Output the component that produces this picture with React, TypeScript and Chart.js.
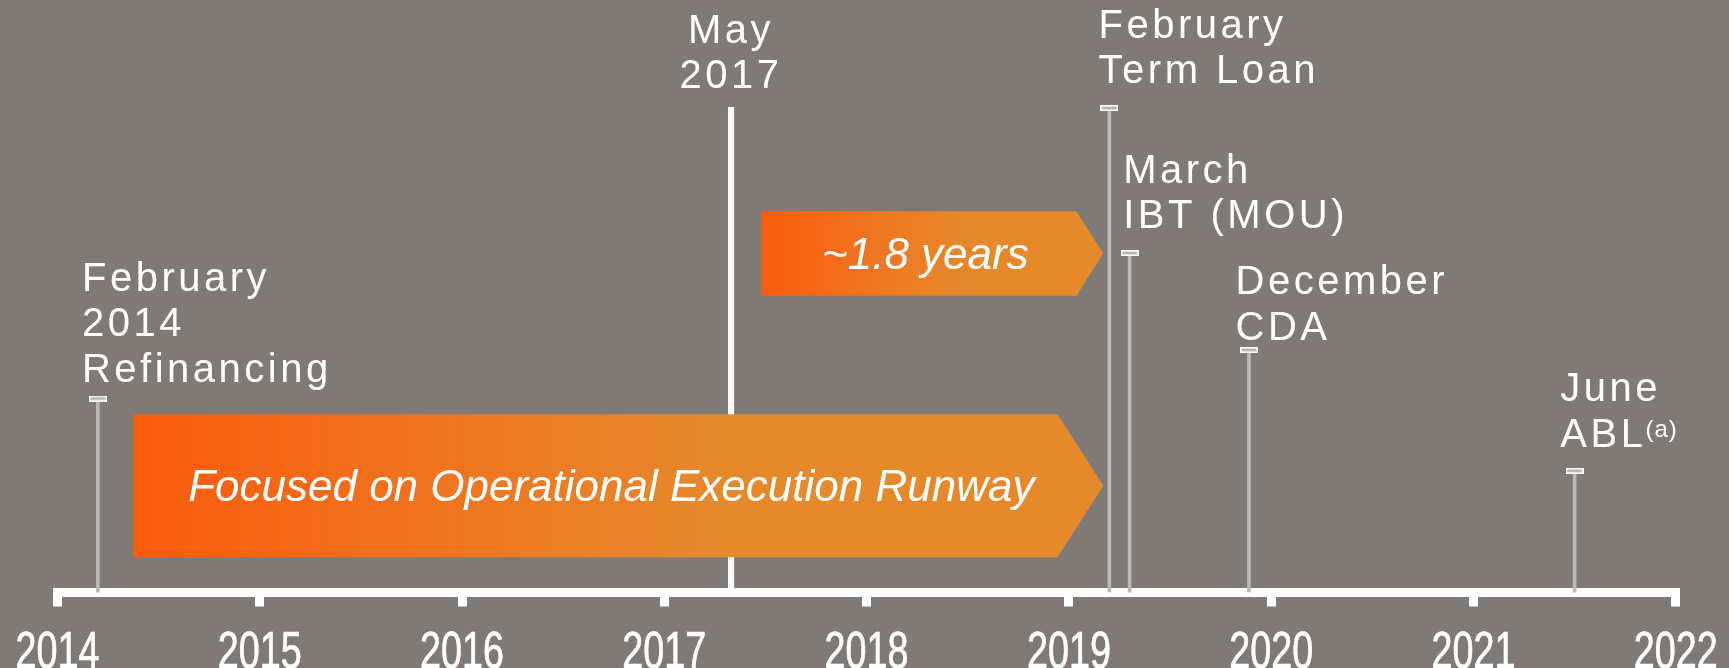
import React, { useEffect, useRef } from "react";
import { Chart, registerables } from "chart.js";

Chart.register(...registerables);

// ---- data ----
const years = [2014, 2015, 2016, 2017, 2018, 2019, 2020, 2021, 2022];
const eventDates = [2014.2, 2019.2, 2019.3, 2019.89, 2021.5];
const eventHeights = [32.74, 81.77, 57.28, 40.93, 20.54];
const eventLabels = [
  ["February", "2014", "Refinancing"],
  ["February", "Term Loan"],
  ["March", "IBT (MOU)"],
  ["December", "CDA"],
  ["June", "ABL"],
];
const eventSuperscripts = ["", "", "", "", "(a)"];
const milestoneDates = [2017.33];
const milestoneHeights = [81.89];
const milestoneLabels = [["May", "2017"]];
const runwayStarts = [2014.375, 2017.48];
const runwayEnds = [2019.17, 2019.17];
const runwayTops = [30.08, 64.34];
const runwayBottoms = [5.94, 50.09];
const runwayTexts = ["Focused on Operational Execution Runway", "~1.8 years"];

// ---- layout / style (pixels) ----
const labelDx = [-15.9, -10.8, -6.4, -13.4, -14.3];
const labelGap = [16.8, 24.7, 24.8, 10, 24.1];
const LINE_H = 45.5;
const BG = "#807a77";
const LABEL_FONT = "40px 'Liberation Sans', Arial, sans-serif";
const LABEL_SPACING = "3.5px";
const SUP_FONT = "24px 'Liberation Sans', Arial, sans-serif";
const ARROW_FONT = "italic 44px 'Liberation Sans', Arial, sans-serif";
const TICK_FONT = "51px 'Liberation Sans', Arial, sans-serif";
const TICK_SQUEEZE = 0.74;
const TICK_BASELINE = 667.5;

function makeCap(): HTMLCanvasElement {
  const c = document.createElement("canvas");
  c.width = 18;
  c.height = 6;
  const g = c.getContext("2d")!;
  g.fillStyle = "#b5b3b1";
  g.fillRect(0, 0, 18, 6);
  g.strokeStyle = "#ffffff";
  g.lineWidth = 1.6;
  g.strokeRect(0.8, 0.8, 16.4, 4.4);
  return c;
}

const overlayPlugin = {
  id: "timelineOverlay",
  afterDatasetsDraw(chart: any) {
    const { ctx, scales } = chart;
    const xs = scales.x;
    const ys = scales.y;
    ctx.save();

    // runway arrows
    for (let i = 0; i < runwayStarts.length; i++) {
      const x0 = xs.getPixelForValue(runwayStarts[i]);
      const xt = xs.getPixelForValue(runwayEnds[i]);
      const yt = ys.getPixelForValue(runwayTops[i]);
      const yb = ys.getPixelForValue(runwayBottoms[i]);
      const half = (yb - yt) / 2;
      const depth = half * 0.64;
      const xb = xt - depth;
      const grad = ctx.createLinearGradient(x0, 0, xt, 0);
      grad.addColorStop(0, "#f95c0c");
      grad.addColorStop(0.3, "#f0731f");
      grad.addColorStop(0.6, "#e6892b");
      grad.addColorStop(1, "#e6892b");
      ctx.fillStyle = grad;
      ctx.beginPath();
      ctx.moveTo(x0, yt);
      ctx.lineTo(xb, yt);
      ctx.lineTo(xt, yt + half);
      ctx.lineTo(xb, yb);
      ctx.lineTo(x0, yb);
      ctx.closePath();
      ctx.fill();

      ctx.font = ARROW_FONT;
      ctx.fillStyle = "#ffffff";
      ctx.textAlign = "center";
      ctx.textBaseline = "alphabetic";
      ctx.fillText(runwayTexts[i], (x0 + xt) / 2 - 7, yt + half + 15);
    }

    // event labels
    ctx.textAlign = "left";
    ctx.textBaseline = "alphabetic";
    ctx.fillStyle = "#ffffff";
    for (let i = 0; i < eventDates.length; i++) {
      const px = xs.getPixelForValue(eventDates[i]);
      const py = ys.getPixelForValue(eventHeights[i]);
      const lines = eventLabels[i];
      const last = py - labelGap[i];
      const left = px + labelDx[i];
      ctx.font = LABEL_FONT;
      (ctx as any).letterSpacing = LABEL_SPACING;
      for (let j = 0; j < lines.length; j++) {
        const by = last - (lines.length - 1 - j) * LINE_H;
        ctx.fillText(lines[j], left, by);
      }
      if (eventSuperscripts[i]) {
        const w = ctx.measureText(lines[lines.length - 1]).width;
        ctx.font = SUP_FONT;
        (ctx as any).letterSpacing = "1px";
        ctx.fillText(eventSuperscripts[i], left + w - 1, last - 10);
      }
    }

    // milestone labels
    ctx.font = LABEL_FONT;
    (ctx as any).letterSpacing = LABEL_SPACING;
    ctx.textAlign = "center";
    for (let i = 0; i < milestoneDates.length; i++) {
      const px = xs.getPixelForValue(milestoneDates[i]);
      const py = ys.getPixelForValue(milestoneHeights[i]);
      const lines = milestoneLabels[i];
      const last = py - 19;
      for (let j = 0; j < lines.length; j++) {
        const by = last - (lines.length - 1 - j) * LINE_H;
        ctx.fillText(lines[j], px, by);
      }
    }
    (ctx as any).letterSpacing = "0px";
    ctx.restore();
  },
  afterDraw(chart: any) {
    // condensed year labels positioned by the x scale's own ticks
    const { ctx, scales } = chart;
    const xs = scales.x;
    ctx.save();
    ctx.font = TICK_FONT;
    ctx.fillStyle = "#ffffff";
    ctx.strokeStyle = "#ffffff";
    ctx.lineWidth = 0.7;
    ctx.textAlign = "center";
    ctx.textBaseline = "alphabetic";
    xs.ticks.forEach((t: any) => {
      const px = xs.getPixelForValue(t.value);
      const label = String(t.value);
      ctx.save();
      ctx.translate(px, TICK_BASELINE);
      ctx.scale(TICK_SQUEEZE, 1);
      ctx.fillText(label, 0, 0);
      ctx.strokeText(label, 0, 0);
      ctx.restore();
    });
    ctx.restore();
  },
};

export default function App() {
  const ref = useRef<HTMLCanvasElement>(null);

  useEffect(() => {
    const canvas = ref.current!;
    const cap = makeCap();
    const chart = new Chart(canvas, {
      type: "bar",
      data: {
        datasets: [
          {
            type: "scatter",
            data: eventDates.map((x, i) => ({ x, y: eventHeights[i] })),
            pointStyle: cap as any,
            pointRadius: 9,
            order: 0,
          } as any,
          {
            type: "bar",
            data: eventDates.map((x, i) => ({ x, y: eventHeights[i] })),
            backgroundColor: "#b9b9b9",
            barThickness: 3,
            grouped: false,
            order: 1,
          } as any,
          {
            type: "bar",
            data: milestoneDates.map((x, i) => ({ x, y: milestoneHeights[i] })),
            backgroundColor: "#ffffff",
            barThickness: 5.5,
            grouped: false,
            order: 2,
          } as any,
        ],
      },
      options: {
        animation: false,
        responsive: true,
        maintainAspectRatio: false,
        events: [],
        layout: { autoPadding: false, padding: { left: 57.4, right: 53.2, top: 0, bottom: 0 } },
        plugins: { legend: { display: false }, tooltip: { enabled: false } },
        scales: {
          x: {
            type: "linear",
            min: years[0],
            max: years[years.length - 1],
            offset: false,
            afterBuildTicks: (s: any) => {
              s.ticks = years.map((v) => ({ value: v }));
            },
            afterFit: (s: any) => {
              s.height = 75.5;
              s.paddingLeft = 0;
              s.paddingRight = 0;
              s.paddingTop = 0;
              s.paddingBottom = 0;
            },
            border: { display: true, color: "#ffffff", width: 9 },
            grid: {
              display: true,
              drawOnChartArea: false,
              drawTicks: true,
              offset: false,
              tickLength: 14,
              tickWidth: 9,
              tickColor: "#ffffff",
              color: "#ffffff",
              lineWidth: 9,
            },
            ticks: {
              display: false,
              autoSkip: false,
              maxRotation: 0,
              callback: (v: any) => String(v),
            },
          },
          y: {
            type: "linear",
            display: false,
            min: 0,
            max: 100,
          },
        },
      },
      plugins: [overlayPlugin],
    } as any);
    return () => chart.destroy();
  }, []);

  return (
    <div
      style={{
        position: "fixed",
        left: 0,
        top: 0,
        width: 1729,
        height: 668,
        background: BG,
        overflow: "hidden",
      }}
    >
      <canvas ref={ref} />
    </div>
  );
}
